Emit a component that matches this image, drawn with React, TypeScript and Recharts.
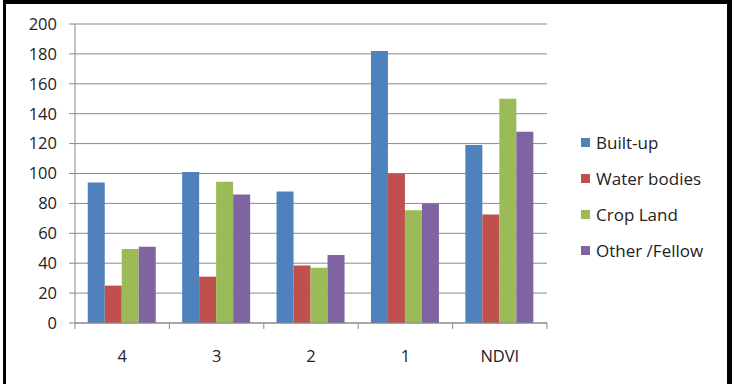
import { BarChart, Bar, XAxis, YAxis, CartesianGrid } from "recharts";

const categories = ["4", "3", "2", "1", "NDVI"];
const builtUp = [94, 101, 88, 182, 119];
const waterBodies = [25, 31, 38.5, 100, 72.5];
const cropLand = [49.5, 94.5, 37, 75.5, 150];
const otherFellow = [51, 86, 45.5, 80, 128];
const yTicks = [0, 20, 40, 60, 80, 100, 120, 140, 160, 180, 200];

const series = [
  { key: "builtUp", name: "Built-up", color: "#4F81BD", values: builtUp },
  { key: "water", name: "Water bodies", color: "#C0504D", values: waterBodies },
  { key: "crop", name: "Crop Land", color: "#9BBB59", values: cropLand },
  { key: "other", name: "Other /Fellow", color: "#8064A2", values: otherFellow },
];

const data = categories.map((c, i) => {
  const row: Record<string, string | number> = { name: c };
  series.forEach((s) => (row[s.key] = s.values[i]));
  return row;
});

const W = 739;
const H = 384;
const margin = { top: 24, right: 192, bottom: 31, left: 0 };
const yAxisWidth = 75;
const plotWidth = W - margin.left - margin.right - yAxisWidth;
const band = plotWidth / categories.length;
const font = "'Open Sans', sans-serif";
const axisGray = "#8a8a8a";

const XTick = (props: any) => {
  const { x, y, payload, index } = props;
  const half = band / 2;
  return (
    <g>
      <line x1={x - half} x2={x - half} y1={y} y2={y + 6} stroke={axisGray} />
      {index === categories.length - 1 && (
        <line x1={x + half} x2={x + half} y1={y} y2={y + 6} stroke={axisGray} />
      )}
      <text x={x} y={y + 39} textAnchor="middle" fontSize={16.5} fill="#222" fontFamily={font}>
        {payload.value}
      </text>
    </g>
  );
};

export default function App() {
  return (
    <div style={{ position: "absolute", left: 0, top: 0, width: W, height: H, overflow: "hidden", background: "#fff" }}>
      <BarChart width={W} height={H} data={data} margin={margin} barCategoryGap="13.5%" barGap={0}>
        <CartesianGrid vertical={false} stroke={axisGray} />
        <XAxis
          dataKey="name"
          stroke={axisGray}
          tickLine={false}
          tickSize={0}
          tickMargin={0}
          height={30}
          interval={0}
          tick={<XTick />}
        />
        <YAxis
          width={yAxisWidth}
          domain={[0, 200]}
          ticks={yTicks}
          stroke={axisGray}
          tickSize={6}
          tickMargin={12}
          tick={{ fill: "#222", fontSize: 16.5, fontFamily: font }}
        />
        {series.map((s) => (
          <Bar key={s.key} dataKey={s.key} name={s.name} fill={s.color} isAnimationActive={false} />
        ))}
      </BarChart>
      <div style={{ position: "absolute", left: 581, top: 124, fontFamily: font, fontSize: 17, color: "#222" }}>
        {series.map((s) => (
          <div key={s.key} style={{ display: "flex", alignItems: "center", height: 36 }}>
            <span style={{ width: 9, height: 9, background: s.color, marginRight: 6 }} />
            <span>{s.name}</span>
          </div>
        ))}
      </div>
      <div
        style={{
          position: "absolute",
          left: 3,
          top: 0,
          width: 729,
          height: 420,
          boxSizing: "border-box",
          borderLeft: "3px solid #000",
          borderTop: "4px solid #000",
          borderRight: "5px solid #000",
          pointerEvents: "none",
        }}
      />
    </div>
  );
}
